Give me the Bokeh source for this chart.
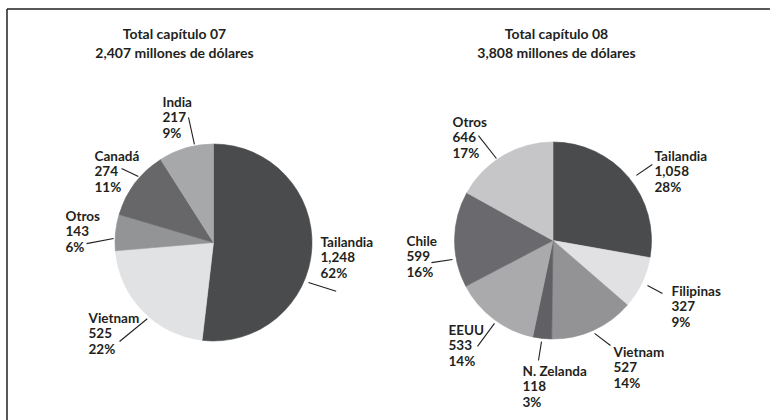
import math
from bokeh.plotting import figure
from bokeh.models import Range1d
from bokeh.core.properties import value
from bokeh.embed import file_html
from bokeh.resources import INLINE

# ---------------- data ----------------
cap07_countries = ["Tailandia", "Vietnam", "Otros", "Canadá", "India"]
cap07_values = [1248, 525, 143, 274, 217]
cap07_pct = ["62%", "22%", "6%", "11%", "9%"]
cap07_title = "Total capítulo 07"

cap08_countries = ["Tailandia", "Filipinas", "Vietnam", "N. Zelanda", "EEUU", "Chile", "Otros"]
cap08_values = [1058, 327, 527, 118, 533, 599, 646]
cap08_pct = ["28%", "9%", "14%", "3%", "14%", "16%", "17%"]
cap08_title = "Total capítulo 08"

# ---------------- styles / layout ----------------
cap07_colors = ["#4a4b4d", "#e1e2e3", "#939496", "#67676a", "#a7a8aa"]
cap08_colors = ["#4a4b4d", "#e1e1e3", "#939396", "#616165", "#aaaaac", "#6a6a6e", "#c6c6c8"]

# leader lines: (angle_in, angle_out, r_in, r_out) in degrees clockwise from top
cap07_leaders = [(112.8, 111.7, 103, 132), (221, 223.5, 101, 136.5), (272.3, 269.5, 100, 127),
                 (311.3, 308.8, 100, 118), (349, 348.7, 100, 127.5)]
cap08_leaders = [(52, 52.6, 105.8, 125), (115.5, 115.8, 104.7, 121.6), (155.9, 151.3, 101.8, 119.7),
                 (186.5, 186.9, 101.7, 120.9), (215.2, 215.5, 101.5, 130), (259.3, 259.7, 102.3, 123.5),
                 (325.4, 324.6, 99.6, 128.7)]
# text block offsets from pie centre (left x, first-line centre y; screen pixels)
cap07_text_off = [(107, -1), (-125, 75), (-148, -27), (-119, -87), (-51, -141)]
cap08_text_off = [(101.5, -85), (118.5, 50), (60.5, 111), (-30.5, 130), (-104.5, 89), (-146.5, 0), (-100.5, -119)]

W, H = 770, 420
X0, Y0 = 0, 0
R = 98.5
FONT = value("Lato")
TXT = "#231f20"
LINE_H = 15.5

p = figure(width=W, height=H, output_backend="svg", toolbar_location=None,
           x_range=Range1d(X0, X0 + W), y_range=Range1d(-(Y0 + H), -Y0),
           min_border=0, outline_line_color=None, background_fill_color="white",
           border_fill_color="white")
p.axis.visible = False
p.grid.visible = False

# frame lines (top / left)
p.segment(x0=[6.5, 6.5], y0=[-8.5, -8.5], x1=[X0 + W, 6.5], y1=[-8.5, -(Y0 + H)],
          line_color=TXT, line_width=1.5)


def draw_pie(cx, cy, title, countries, values, pcts, colors, leaders, offs, title_cx):
    total = sum(values)
    cum = 0.0
    starts, ends = [], []
    for v in values:
        starts.append(math.pi / 2 - 2 * math.pi * cum / total)
        cum += v
        ends.append(math.pi / 2 - 2 * math.pi * cum / total)
    n = len(values)
    p.wedge(x=[cx] * n, y=[-cy] * n, radius=R, start_angle=starts, end_angle=ends,
            direction="clock", fill_color=colors, line_color=colors, line_width=0.6)

    # leader lines
    xs0, ys0, xs1, ys1 = [], [], [], []
    for a_in, a_out, r_in, r_out in leaders:
        ai, ao = math.radians(a_in), math.radians(a_out)
        xs0.append(cx + r_in * math.sin(ai)); ys0.append(-(cy - r_in * math.cos(ai)))
        xs1.append(cx + r_out * math.sin(ao)); ys1.append(-(cy - r_out * math.cos(ao)))
    p.segment(x0=xs0, y0=ys0, x1=xs1, y1=ys1, line_color="#231f20", line_width=1.1)

    # labels
    tx, ty, tt = [], [], []
    for name, v, pc, (dx, dy) in zip(countries, values, pcts, offs):
        for k, s in enumerate([name, f"{v:,}", pc]):
            tx.append(cx + dx); ty.append(-(cy + dy + k * LINE_H)); tt.append(s)
    p.text(x=tx, y=ty, text=tt, text_font=FONT, text_font_style="bold", text_font_size="13.5px",
           text_color=TXT, text_align="left", text_baseline="middle")

    # title
    p.text(x=[title_cx, title_cx], y=[-33, -52], text=[title, f"{total:,} millones de dólares"],
           text_font=FONT, text_font_style="bold", text_font_size="14px", text_color=TXT,
           text_align="center", text_baseline="middle")


draw_pie(213, 242, cap07_title, cap07_countries, cap07_values, cap07_pct, cap07_colors,
         cap07_leaders, cap07_text_off, 174)
draw_pie(552.5, 240, cap08_title, cap08_countries, cap08_values, cap08_pct, cap08_colors,
         cap08_leaders, cap08_text_off, 556)

open("out.html", "w").write(file_html(p, INLINE))
